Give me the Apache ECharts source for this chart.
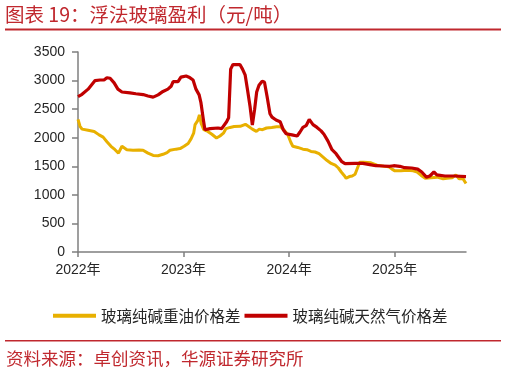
<!DOCTYPE html>
<html>
<head>
<meta charset="utf-8">
<script src="https://cdn.jsdelivr.net/npm/echarts@6/dist/echarts.min.js"></script>
<style>html,body{margin:0;padding:0;background:#fff;}#c{width:506px;height:374px;}</style>
</head>
<body>
<div id="c"></div>
<script>
const titleText = '图表 19：浮法玻璃盈利（元/吨）';
const sourceText = '资料来源：卓创资讯，华源证券研究所';
const seriesNames = ['玻璃纯碱重油价格差', '玻璃纯碱天然气价格差'];
const yearTicks = [2022, 2023, 2024, 2025];

const oilDates = ['2022-01-01','2022-01-08','2022-01-15','2022-02-05','2022-02-26','2022-03-15','2022-03-29','2022-04-11','2022-04-25','2022-05-09','2022-05-21','2022-06-02','2022-06-19','2022-07-10','2022-07-31','2022-08-14','2022-08-31','2022-09-18','2022-10-05','2022-10-22','2022-11-05','2022-11-15','2022-12-06','2022-12-20','2023-01-03','2023-01-17','2023-01-27','2023-02-05','2023-02-10','2023-02-19','2023-02-25','2023-03-03','2023-03-12','2023-03-26','2023-04-09','2023-04-25','2023-05-07','2023-05-19','2023-05-28','2023-06-11','2023-06-25','2023-07-16','2023-08-03','2023-08-13','2023-08-27','2023-09-10','2023-09-20','2023-10-01','2023-10-15','2023-11-02','2023-11-19','2023-12-03','2023-12-17','2023-12-27','2024-01-07','2024-01-14','2024-01-31','2024-02-18','2024-03-03','2024-03-17','2024-03-31','2024-04-14','2024-04-28','2024-05-12','2024-05-26','2024-06-09','2024-06-20','2024-06-30','2024-07-10','2024-07-17','2024-07-28','2024-08-07','2024-08-17','2024-08-26','2024-09-02','2024-09-17','2024-10-11','2024-11-01','2024-11-25','2024-12-12','2024-12-23','2025-01-02','2025-01-23','2025-02-13','2025-03-06','2025-03-20','2025-04-03','2025-04-17','2025-05-07','2025-05-28','2025-06-18','2025-07-01','2025-07-19','2025-08-01','2025-08-12','2025-08-26','2025-09-05'];
const oilValues = [2320,2200,2150,2130,2110,2050,2010,1930,1850,1790,1730,1850,1790,1780,1785,1780,1730,1690,1685,1710,1740,1780,1800,1810,1850,1900,1980,2080,2230,2300,2400,2250,2140,2110,2060,1995,2030,2080,2160,2180,2195,2200,2235,2200,2150,2110,2150,2140,2170,2180,2190,2190,2120,2060,1920,1850,1830,1800,1790,1760,1750,1720,1660,1600,1550,1520,1470,1400,1340,1290,1320,1330,1360,1480,1570,1570,1560,1520,1500,1490,1450,1420,1420,1430,1420,1400,1340,1290,1300,1310,1280,1290,1300,1350,1280,1280,1200];

const gasDates = ['2022-01-01','2022-01-15','2022-02-05','2022-03-01','2022-03-18','2022-04-01','2022-04-11','2022-04-22','2022-05-06','2022-05-19','2022-06-02','2022-06-30','2022-07-20','2022-08-14','2022-08-31','2022-09-18','2022-10-05','2022-10-22','2022-11-08','2022-11-19','2022-11-26','2022-12-13','2022-12-23','2023-01-10','2023-01-20','2023-02-03','2023-02-13','2023-02-24','2023-03-02','2023-03-11','2023-03-16','2023-04-03','2023-04-30','2023-05-13','2023-05-30','2023-06-06','2023-06-13','2023-06-21','2023-07-15','2023-07-24','2023-08-02','2023-08-10','2023-08-19','2023-08-27','2023-09-04','2023-09-11','2023-09-19','2023-09-30','2023-10-08','2023-10-17','2023-10-27','2023-11-03','2023-11-17','2023-12-01','2023-12-12','2023-12-22','2024-01-11','2024-01-29','2024-02-08','2024-02-18','2024-02-29','2024-03-11','2024-03-24','2024-04-07','2024-04-21','2024-05-01','2024-05-15','2024-05-29','2024-06-12','2024-06-22','2024-07-02','2024-07-13','2024-08-16','2024-09-13','2024-10-07','2024-10-28','2024-11-21','2024-12-15','2024-12-29','2025-01-19','2025-02-05','2025-03-01','2025-03-22','2025-04-05','2025-04-21','2025-05-03','2025-05-17','2025-05-27','2025-06-24','2025-07-28','2025-09-05'];
const gasValues = [2720,2760,2850,3000,3010,3010,3050,3040,2960,2850,2800,2785,2770,2755,2730,2710,2750,2810,2850,2900,2980,2980,3060,3080,3060,3010,2850,2750,2620,2300,2140,2160,2170,2160,2280,2350,3200,3280,3280,3200,3100,2850,2550,2220,2500,2800,2920,2990,2970,2720,2420,2360,2310,2280,2140,2070,2050,2030,2100,2180,2210,2320,2230,2180,2120,2060,1940,1790,1720,1650,1580,1545,1550,1550,1530,1510,1505,1500,1510,1500,1475,1470,1450,1400,1310,1330,1400,1350,1330,1330,1320];

function toYear(s) {
  const [y, m, d] = s.split('-').map(Number);
  const start = Date.UTC(y, 0, 1), end = Date.UTC(y + 1, 0, 1);
  return y + (Date.UTC(y, m - 1, d) - start) / (end - start);
}
const oilData = oilDates.map((d, i) => [toYear(d), oilValues[i]]);
const gasData = gasDates.map((d, i) => [toYear(d), gasValues[i]]);

const RED = '#c00000';
const YEL = '#e8b000';
const DARK = '#262626';
const AXIS = '#7f7f7f';
const TITLE_RED = '#c0282e';
const FONT = 'Arial, "Liberation Sans", "Noto Sans CJK SC", sans-serif';

const chart = echarts.init(document.getElementById('c'), null, {renderer: 'canvas'});
chart.setOption({
  animation: false,
  backgroundColor: '#fff',
  textStyle: {fontFamily: FONT},
  grid: {left: 78, right: 40, top: 52, bottom: 122, containLabel: false},
  legend: {
    left: 48, top: 303,
    itemWidth: 43, itemHeight: 4, itemGap: 4,
    icon: 'rect',
    textStyle: {fontSize: 15.5, color: DARK, fontFamily: '"Noto Sans CJK SC", sans-serif'},
    data: seriesNames
  },
  xAxis: {
    type: 'value',
    min: 2022, max: toYear('2025-09-05'),
    interval: 1,
    splitLine: {show: false},
    axisLine: {lineStyle: {color: AXIS, width: 1.5}},
    axisTick: {show: true, length: 5, lineStyle: {color: AXIS, width: 1.5}, customValues: yearTicks},
    axisLabel: {customValues: yearTicks, formatter: v => v + '年', fontSize: 14, color: DARK, margin: 11, fontFamily: FONT}
  },
  yAxis: {
    type: 'value',
    min: 0, max: 3500, interval: 500,
    splitLine: {show: false},
    axisLine: {show: true, lineStyle: {color: AXIS, width: 1.5}},
    axisTick: {show: true, length: 6, lineStyle: {color: AXIS, width: 1.5}},
    axisLabel: {fontSize: 14, color: DARK, margin: 13, fontFamily: FONT, formatter: v => String(v)}
  },
  series: [
    {name: seriesNames[0], type: 'line', data: oilData, showSymbol: false, symbol: 'none',
     lineStyle: {color: YEL, width: 3}, itemStyle: {color: YEL}, z: 2},
    {name: seriesNames[1], type: 'line', data: gasData, showSymbol: false, symbol: 'none',
     lineStyle: {color: RED, width: 3.2}, itemStyle: {color: RED}, z: 3}
  ],
  graphic: [
    {type: 'text', left: 5, top: 5, style: {text: titleText, fill: TITLE_RED, fontSize: 19.5, fontFamily: '"Noto Sans CJK SC", sans-serif'}},
    {type: 'rect', shape: {x: 5, y: 28.5, width: 496, height: 2}, style: {fill: TITLE_RED}},
    {type: 'rect', shape: {x: 5, y: 340, width: 496, height: 1.5}, style: {fill: TITLE_RED}},
    {type: 'text', left: 6, top: 350, style: {text: sourceText, fill: TITLE_RED, fontSize: 17.5, fontFamily: '"Noto Sans CJK SC", sans-serif'}}
  ]
});
</script>
</body>
</html>
